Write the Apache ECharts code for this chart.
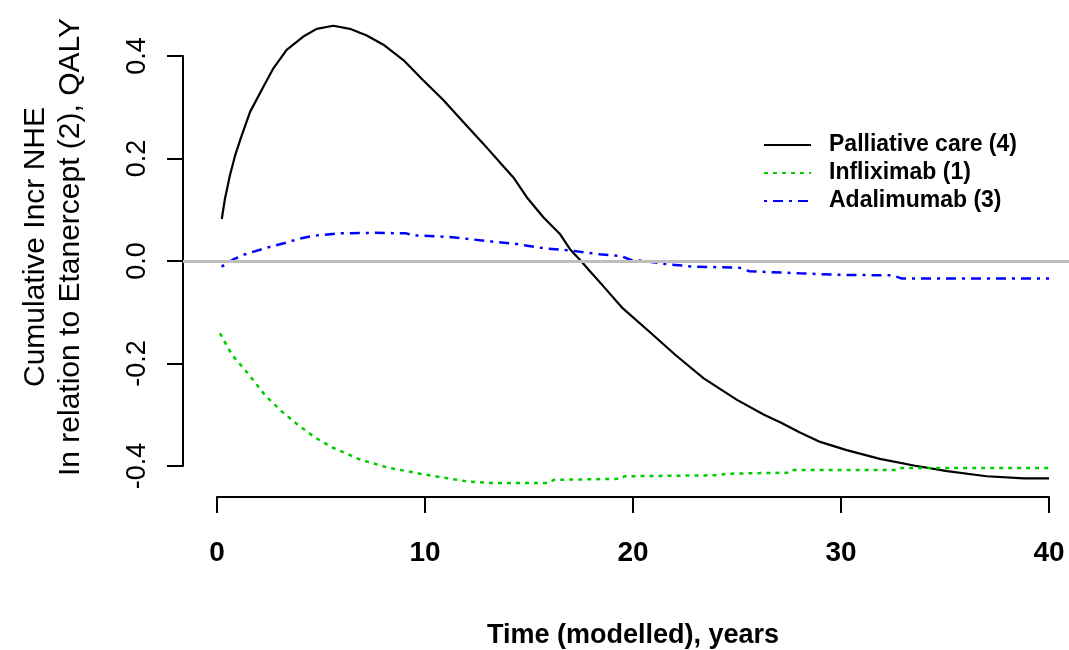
<!DOCTYPE html>
<html>
<head>
<meta charset="utf-8">
<script src="https://cdn.jsdelivr.net/npm/echarts@6/dist/echarts.min.js"></script>
<style>
html,body{margin:0;padding:0;background:#ffffff;}
#chart{width:1069px;height:650px;}
</style>
</head>
<body>
<div id="chart"></div>
<script>
// ---- data ----
const xTicks = [0, 10, 20, 30, 40];
const yTicks = [-0.4, -0.2, 0.0, 0.2, 0.4];
const seriesNames = ['Palliative care (4)', 'Infliximab (1)', 'Adalimumab (3)'];
const xTitle = 'Time (modelled), years';
const yTitle = ['Cumulative Incr NHE', 'In relation to Etanercept (2), QALY'];
const referenceLevel = 0;

// [years, cumulative incremental NHE]
const palliative = [
  [0.23,0.082],[0.38,0.121],[0.62,0.167],[0.87,0.206],[1.19,0.245],[1.59,0.291],[2.23,0.340],
  [2.71,0.376],[3.35,0.412],[4.15,0.438],[4.79,0.453],[5.59,0.459],[6.39,0.453],[7.2,0.440],
  [8.0,0.422],[8.96,0.392],[9.9,0.353],[10.88,0.314],[11.84,0.271],[12.8,0.229],[13.7,0.188],
  [14.25,0.163],[14.9,0.124],[15.7,0.085],[16.5,0.052],[16.97,0.023],[17.5,0.0],[17.93,-0.020],
  [18.57,-0.049],[19.5,-0.092],[20.9,-0.142],[22.0,-0.182],[23.4,-0.229],[25.0,-0.271],
  [26.3,-0.300],[27.1,-0.315],[28.0,-0.334],[29.0,-0.353],[30.27,-0.369],[31.87,-0.386],
  [33.5,-0.399],[35.1,-0.410],[37.0,-0.420],[38.8,-0.424],[40.0,-0.424]
];
const infliximab = [
  [0.14,-0.141],[0.72,-0.183],[1.54,-0.222],[2.31,-0.262],[3.1,-0.293],[3.9,-0.320],
  [4.7,-0.344],[5.5,-0.363],[6.86,-0.387],[8.2,-0.403],[9.76,-0.415],[11.1,-0.424],
  [12.0,-0.430],[13.2,-0.433],[15.9,-0.433],[16.2,-0.427],[19.4,-0.425],[19.6,-0.420],
  [24.1,-0.418],[24.5,-0.415],[27.5,-0.413],[27.7,-0.408],[32.7,-0.408],[32.9,-0.404],
  [40.0,-0.404]
];
const adalimumab = [
  [0.22,-0.011],[0.78,0.003],[1.27,0.012],[2.39,0.026],[3.35,0.036],[3.99,0.044],[4.79,0.050],
  [5.91,0.054],[7.5,0.055],[9.1,0.054],[9.4,0.050],[11.2,0.047],[12.97,0.039],[14.25,0.034],
  [15.7,0.025],[17.1,0.020],[18.4,0.013],[19.4,0.010],[19.9,0.002],[20.5,0.0],[21.6,-0.006],
  [22.9,-0.011],[25.1,-0.013],[25.6,-0.020],[28.0,-0.024],[29.95,-0.027],[32.5,-0.028],
  [32.9,-0.034],[40.0,-0.034]
];

// ---- chart ----
const FONT = '"Liberation Sans", Arial, Helvetica, sans-serif';
const chart = echarts.init(document.getElementById('chart'), null, {renderer: 'canvas'});

const option = {
  backgroundColor: '#ffffff',
  animation: false,
  grid: [
    {left: 217, top: 56, width: 832, height: 410, containLabel: false, outerBoundsMode: 'none'},
    {left: 183, top: 56, right: 0, height: 410, containLabel: false, outerBoundsMode: 'none'}
  ],
  xAxis: [
    {
      gridIndex: 0, type: 'value', min: xTicks[0], max: xTicks[xTicks.length - 1], interval: 10,
      position: 'bottom', offset: 31,
      axisLine: {show: true, onZero: false, lineStyle: {color: '#000', width: 2}},
      axisTick: {show: true, length: 16, lineStyle: {color: '#000', width: 2}},
      splitLine: {show: false},
      axisLabel: {color: '#000', fontFamily: FONT, fontSize: 28, fontWeight: 'bold', margin: 42},
      name: xTitle, nameLocation: 'middle', nameGap: 125,
      nameTextStyle: {color: '#000', fontFamily: FONT, fontSize: 27, fontWeight: 'bold'}
    },
    {gridIndex: 1, type: 'value', min: 0, max: 1, show: false}
  ],
  yAxis: [
    {
      gridIndex: 0, type: 'value', min: yTicks[0], max: yTicks[yTicks.length - 1], interval: 0.2,
      position: 'left', offset: 34,
      axisLine: {show: true, onZero: false, lineStyle: {color: '#000', width: 2}},
      axisTick: {show: true, length: 16, lineStyle: {color: '#000', width: 2}},
      splitLine: {show: false},
      axisLabel: {
        color: '#000', fontFamily: FONT, fontSize: 27, rotate: 90, margin: 32,
        formatter: v => v.toFixed(1)
      }
    },
    {gridIndex: 1, type: 'value', min: yTicks[0], max: yTicks[yTicks.length - 1], show: false}
  ],
  legend: {
    orient: 'vertical', left: 758, top: 127,
    itemWidth: 47, itemHeight: 14, itemGap: 2,
    data: seriesNames,
    itemStyle: {opacity: 0, borderWidth: 0},
    textStyle: {color: '#000', fontFamily: FONT, fontSize: 23, fontWeight: 'bold', lineHeight: 26, padding: [0, 0, 0, 13]}
  },
  graphic: [{
    type: 'text', x: 53, y: 247, rotation: Math.PI / 2,
    style: {
      text: yTitle.join('\n'), fill: '#000', font: '30px ' + FONT,
      align: 'center', verticalAlign: 'middle', lineHeight: 35
    }
  }],
  series: [
    {
      name: 'ref', type: 'line', xAxisIndex: 1, yAxisIndex: 1, data: [], z: 1, silent: true,
      markLine: {
        silent: true, symbol: 'none', label: {show: false},
        lineStyle: {color: '#bebebe', width: 3, type: 'solid'},
        data: [{yAxis: referenceLevel}]
      }
    },
    {
      name: seriesNames[0], type: 'line', data: palliative, symbol: 'none', clip: false, z: 3,
      lineStyle: {color: '#000000', width: 2.2, type: 'solid'}, itemStyle: {color: '#000000'}
    },
    {
      name: seriesNames[1], type: 'line', data: infliximab, symbol: 'none', clip: false, z: 3,
      lineStyle: {color: '#00cd00', width: 2.5, type: [4, 5]}, itemStyle: {color: '#00cd00'}
    },
    {
      name: seriesNames[2], type: 'line', data: adalimumab, symbol: 'none', clip: false, z: 3,
      lineStyle: {color: '#0000ff', width: 2.5, type: [3, 6, 10, 6]}, itemStyle: {color: '#0000ff'}
    }
  ]
};
chart.setOption(option);
</script>
</body>
</html>
